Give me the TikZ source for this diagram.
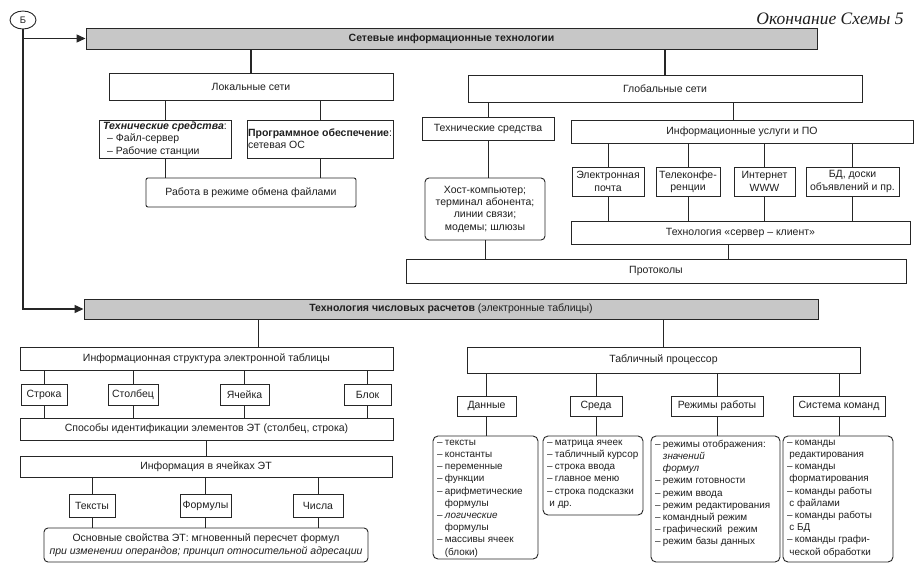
\documentclass[tikz,border=0pt]{standalone}
\usepackage{fontspec}
\setmainfont{Liberation Sans}
\newfontfamily\ttlfont{Liberation Serif}
\usetikzlibrary{arrows.meta,shapes.geometric}
\definecolor{linec}{gray}{0.15}
\definecolor{txtc}{gray}{0.12}
\definecolor{hdrc}{gray}{0.78}
\newcommand\fsz{\fontsize{10.5}{12.3}\selectfont}
\newcommand\lfsz{\fontsize{9.9}{12.2}\selectfont}
\newcommand\itm[1]{\mbox{\makebox[0.8em][l]{–}#1}}
\newcommand\cnt[1]{\mbox{\hspace*{0.8em}#1}}
\newcommand\cnd[1]{\mbox{\hspace*{0.25em}#1}}
\newcommand\lbox[3]{\begin{minipage}[c][#2][t]{#1}\lfsz\raggedright #3\end{minipage}}
\begin{document}
\begin{tikzpicture}[x=1pt,y=-1pt,
  bx/.style={draw=linec, line width=0.9pt, inner sep=1pt, align=center, font=\fsz, text=txtc},
  rbx/.style={bx, rounded corners=4pt},
  hdr/.style={bx, fill=hdrc, line width=1pt},
  lst/.style={draw=linec, line width=0.9pt, rounded corners=5pt, text=txtc, inner xsep=4pt, inner ysep=4pt},
  con/.style={draw=linec, line width=1pt},
  mcon/.style={draw=linec, line width=1.4pt},
  arr/.style={draw=linec, line width=1.4pt, -{Triangle[length=9pt,width=8pt]}}
]
\useasboundingbox[fill=white] (0,0) rectangle (920,579);

% ---------- title and marker ----------
\node[font=\ttlfont\itshape\fontsize{17.5}{20}\selectfont, text=txtc] (title) at (830,19) {Окончание Схемы 5};
\node[draw=linec, line width=0.9pt, ellipse, minimum width=26, minimum height=18, inner sep=0pt, font=\fontsize{9.5}{11}\selectfont, text=txtc] (B) at (23,20) {Б};

% ---------- network technologies ----------
\node[hdr, minimum width=731, minimum height=21] (hdrA) at (451.5,38.5) {\textbf{Сетевые информационные технологии}};

\node[bx, minimum width=284, minimum height=27] (lok) at (251,86.5) {Локальные сети};
\node[bx, minimum width=132, minimum height=38, align=left] (tsL) at (165,139)
  {\textbf{\textit{Технические средства}}:\\\hspace*{4pt}– Файл-сервер\\\hspace*{4pt}– Рабочие станции};
\node[bx, minimum width=146, minimum height=38, align=left] (poL) at (320,139)
  {\textbf{Программное обеспечение}:\\сетевая ОС};
\node[bx, rounded corners=2pt, minimum width=210, minimum height=29] (rab) at (251,192.5) {Работа в режиме обмена файлами};

\node[bx, minimum width=394, minimum height=27] (glob) at (665,88.5) {Глобальные сети};
\node[bx, minimum width=132, minimum height=23] (tsG) at (488,128.5) {Технические средства};
\node[bx, minimum width=342, minimum height=23] (isv) at (742,131.5) {Информационные услуги и ПО};
\node[rbx, minimum width=120, minimum height=62] (host) at (485,209)
  {Хост-компьютер;\\терминал абонента;\\линии связи;\\модемы; шлюзы};
\node[bx, minimum width=72, minimum height=29] (s1) at (608,181.5) {Электронная\\почта};
\node[bx, minimum width=64, minimum height=29] (s2) at (688,181.5) {Телеконфе-\\ренции};
\node[bx, minimum width=61, minimum height=29] (s3) at (764.5,181.5) {Интернет\\WWW};
\node[bx, minimum width=93, minimum height=29] (s4) at (852.5,181.5) {БД, доски\\объявлений и пр.};
\node[bx, minimum width=339, minimum height=23] (tsk) at (740.5,232.5) {Технология «сервер – клиент»};
\node[bx, minimum width=500, minimum height=24] (prot) at (656,271) {Протоколы};

% ---------- spreadsheets ----------
\node[hdr, minimum width=734, minimum height=20] (hdrB) at (451,309) {\textbf{Технология числовых расчетов} (электронные таблицы)};

\node[bx, minimum width=373, minimum height=23] (inf) at (206.5,358.5) {Информационная структура электронной таблицы};
\node[bx, minimum width=46, minimum height=21] (r1) at (44,394.5) {Строка};
\node[bx, minimum width=50, minimum height=21] (r2) at (133,394.5) {Столбец};
\node[bx, minimum width=49, minimum height=21] (r3) at (244.5,394.5) {Ячейка};
\node[bx, minimum width=47, minimum height=21] (r4) at (367.5,394.5) {Блок};
\node[bx, minimum width=373, minimum height=22] (spo) at (206.5,429) {Способы идентификации элементов ЭТ (столбец, строка)};
\node[bx, minimum width=372, minimum height=21] (inf2) at (206,467) {Информация в ячейках ЭТ};
\node[bx, minimum width=46, minimum height=23] (t1) at (92,505.5) {Тексты};
\node[bx, minimum width=51, minimum height=23] (t2) at (205.5,505.5) {Формулы};
\node[bx, minimum width=50, minimum height=23] (t3) at (318,505.5) {Числа};
\node[rbx, minimum width=324, minimum height=34, font=\fontsize{10.5}{13.5}\selectfont] (osn) at (206,545)
  {Основные свойства ЭТ: мгновенный пересчет формул\\\textit{при изменении операндов; принцип относительной адресации}};

\node[bx, minimum width=393, minimum height=26] (tp) at (663.5,360) {Табличный процессор};
\node[bx, minimum width=59, minimum height=20] (d1) at (486.5,406) {Данные};
\node[bx, minimum width=52, minimum height=20] (d2) at (596,406) {Среда};
\node[bx, minimum width=92, minimum height=20] (d3) at (717,406) {Режимы работы};
\node[bx, minimum width=92, minimum height=20] (d4) at (839,406) {Система команд};

\node[lst] (L1) at (485.5,497.5) {\lbox{97pt}{115pt}{\itm{тексты}\\\itm{константы}\\\itm{переменные}\\\itm{функции}\\\itm{арифметические}\\\cnt{формулы}\\\itm{\textit{логические}}\\\cnt{формулы}\\\itm{массивы ячеек}\\\cnt{(блоки)}}};
\node[lst] (L2) at (593,475.5) {\lbox{92pt}{71pt}{\itm{матрица ячеек}\\\itm{табличный курсор}\\\itm{строка ввода}\\\itm{главное меню}\\\itm{строка подсказки}\\\cnd{и др.}}};
\node[lst] (L3) at (715.5,499) {\lbox{121pt}{118pt}{\itm{режимы отображения:}\\\cnt{\textit{значений}}\\\cnt{\textit{формул}}\\\itm{режим готовности}\\\itm{режим ввода}\\\itm{режим редактирования}\\\itm{командный режим}\\\itm{графический\ \ режим}\\\itm{режим базы данных}}};
\node[lst] (L4) at (838,499) {\lbox{102pt}{118pt}{\itm{команды}\\\cnd{редактирования}\\\itm{команды}\\\cnd{форматирования}\\\itm{команды работы}\\\cnd{с файлами}\\\itm{команды работы}\\\cnd{с БД}\\\itm{команды графи-}\\\cnd{ческой обработки}}};

% ---------- connectors ----------
\draw[arr] (B.south |- hdrA.west) -- (hdrA.west);
\draw[arr] (B.south) |- (hdrB.west);

\draw[mcon] (hdrA.south -| lok.north) -- (lok.north);
\draw[mcon] (hdrA.south -| glob.north) -- (glob.north);
\draw[con] (lok.south -| tsL.north) -- (tsL.north);
\draw[con] (lok.south -| poL.north) -- (poL.north);
\draw[con] (tsL.south) -- (tsL.south |- rab.north);
\draw[con] (poL.south) -- (poL.south |- rab.north);
\draw[con] (glob.south -| tsG.north) -- (tsG.north);
\draw[con] ([xshift=-9pt]isv.north |- glob.south) -- ([xshift=-9pt]isv.north);
\draw[con] (tsG.south) -- (tsG.south |- host.north);
\draw[con] (host.south) -- (host.south |- prot.north);
\foreach \s in {s1,s2,s3,s4}{
  \draw[con] (isv.south -| \s.north) -- (\s.north);
  \draw[con] (\s.south) -- (\s.south |- tsk.north);
}
\draw[con] ([xshift=-12pt]tsk.south) -- ([xshift=-12pt]tsk.south |- prot.north);

\draw[mcon] ([xshift=52pt]inf.north |- hdrB.south) -- ([xshift=52pt]inf.north);
\draw[mcon] (hdrB.south -| tp.north) -- (tp.north);
\foreach \r in {r1,r2,r3,r4}{
  \draw[con] (inf.south -| \r.north) -- (\r.north);
  \draw[con] (\r.south) -- (\r.south |- spo.north);
}
\draw[con] (spo.south) -- (spo.south |- inf2.north);
\foreach \t in {t1,t2,t3}{
  \draw[con] (inf2.south -| \t.north) -- (\t.north);
  \draw[con] (\t.south) -- (\t.south |- osn.north);
}
\draw[con] (tp.south -| d1.north) -- (d1.north);
\draw[con] (tp.south -| d2.north) -- (d2.north);
\draw[con] (tp.south -| d3.north) -- (d3.north);
\draw[con] (tp.south -| d4.north) -- (d4.north);
\draw[con] (d1.south) -- (d1.south |- L1.north);
\draw[con] (d2.south) -- (d2.south |- L2.north);
\draw[con] (d3.south) -- (d3.south |- L3.north);
\draw[con] (d4.south) -- (d4.south |- L4.north);
\end{tikzpicture}
\end{document}
